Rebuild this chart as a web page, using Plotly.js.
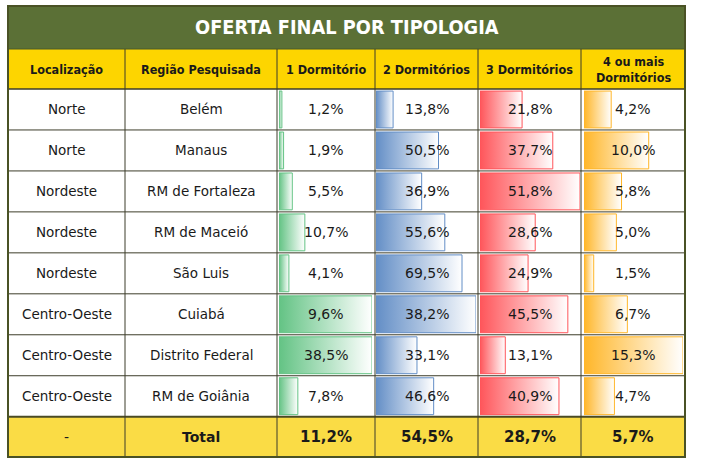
<!DOCTYPE html>
<html>
<head>
<meta charset="utf-8">
<script src="https://cdn.plot.ly/plotly-3.0.1.min.js"></script>
<style>
  html, body { margin: 0; padding: 0; background: #ffffff; }
  #chart { width: 704px; height: 466px; }
</style>
</head>
<body>
<div id="chart"></div>
<script>
// ---------------- DATA ----------------
const tableTitle = 'OFERTA FINAL POR TIPOLOGIA';
const headers = ['Localização', 'Região Pesquisada', '1 Dormitório', '2 Dormitórios', '3 Dormitórios', '4 ou mais<br>Dormitórios'];
const localizacao = ['Norte', 'Norte', 'Nordeste', 'Nordeste', 'Nordeste', 'Centro-Oeste', 'Centro-Oeste', 'Centro-Oeste'];
const regiao = ['Belém', 'Manaus', 'RM de Fortaleza', 'RM de Maceió', 'São Luis', 'Cuiabá', 'Distrito Federal', 'RM de Goiânia'];
const dorm1 = [1.2, 1.9, 5.5, 10.7, 4.1, 9.6, 38.5, 7.8];
const dorm2 = [13.8, 50.5, 36.9, 55.6, 69.5, 38.2, 33.1, 46.6];
const dorm3 = [21.8, 37.7, 51.8, 28.6, 24.9, 45.5, 13.1, 40.9];
const dorm4 = [4.2, 10.0, 5.8, 5.0, 1.5, 6.7, 15.3, 4.7];
const totalLabel = ['-', 'Total'];
const totals = [11.2, 54.5, 28.7, 5.7];
// data-bar lengths as drawn in the source picture (the Cuiabá bars of the
// first two columns are drawn at full length there)
const barLen1 = [1.2, 1.9, 5.5, 10.7, 4.1, 38.5, 38.5, 7.8];
const barLen2 = [13.8, 50.5, 36.9, 55.6, 69.5, 80.8, 33.1, 46.6];
const barLen3 = [21.8, 37.7, 51.8, 28.6, 24.9, 45.5, 13.1, 40.9];
const barLen4 = [4.2, 10.0, 5.8, 5.0, 1.5, 6.7, 15.3, 4.7];

// ---------------- LAYOUT CONSTANTS ----------------
const W = 704, H = 466;
const colEdges = [8, 125, 277, 375, 478, 581, 685];
const tableTop = 6, titleBottom = 49, headBottom = 89, dataBottom = 416.7, tableBottom = 457;
const nRows = localizacao.length;
const rowH = (dataBottom - headBottom) / nRows;
const px = x => x / W;
const py = y => 1 - y / H;
const colCenter = c => (colEdges[c] + colEdges[c + 1]) / 2;

const barColors = ['#63C384', '#638EC6', '#FF555A', '#FFB628'];
const barBorders = ['#63C384', '#638EC6', '#FF555A', '#FFB628'];
const values = [dorm1, dorm2, dorm3, dorm4];
const bars = [barLen1, barLen2, barLen3, barLen4];
const axisNames = ['x', 'x2', 'x3', 'x4'];
const barInsetL = [2, 1, 2, 3];
const barInsetR = [3, 2, 1, 2];

const fontData = 'DejaVu Sans, Verdana, sans-serif';
const fontHead = 'DejaVu Sans Condensed, DejaVu Sans, sans-serif';

// ---------------- TRACES (data bars) ----------------
const traces = [];
const half = 0.45;
for (let c = 0; c < 4; c++) {
  for (let i = 0; i < nRows; i++) {
    const v = bars[c][i];
    traces.push({
      type: 'scatter',
      mode: 'lines',
      xaxis: axisNames[c],
      yaxis: 'y',
      x: [0, v, v, 0, 0],
      y: [i - half, i - half, i + half, i + half, i - half],
      fill: 'toself',
      fillgradient: {
        type: 'horizontal',
        colorscale: [[0, barColors[c]], [1, '#FFFFFF']]
      },
      line: { color: barBorders[c], width: 1 },
      hoverinfo: 'skip',
      showlegend: false
    });
  }
}

// ---------------- SHAPES ----------------
const shapes = [];
// backgrounds
shapes.push({ type: 'rect', xref: 'paper', yref: 'paper', layer: 'below',
  x0: px(colEdges[0]), x1: px(colEdges[6]), y0: py(headBottom), y1: py(dataBottom),
  fillcolor: '#FFFFFF', line: { width: 0 } });
shapes.push({ type: 'rect', xref: 'paper', yref: 'paper', layer: 'below',
  x0: px(colEdges[0]), x1: px(colEdges[6]), y0: py(tableTop), y1: py(titleBottom),
  fillcolor: '#5B7036', line: { width: 0 } });
shapes.push({ type: 'rect', xref: 'paper', yref: 'paper', layer: 'below',
  x0: px(colEdges[0]), x1: px(colEdges[6]), y0: py(titleBottom), y1: py(headBottom),
  fillcolor: '#FDD500', line: { width: 0 } });
shapes.push({ type: 'rect', xref: 'paper', yref: 'paper', layer: 'below',
  x0: px(colEdges[0]), x1: px(colEdges[6]), y0: py(dataBottom), y1: py(tableBottom),
  fillcolor: '#FADC45', line: { width: 0 } });
// horizontal grid lines
const gridColor = '#3D3D2A';
for (let k = 1; k < nRows; k++) {
  const y = headBottom + k * rowH;
  shapes.push({ type: 'line', xref: 'paper', yref: 'paper', layer: 'above',
    x0: px(colEdges[0]), x1: px(colEdges[6]), y0: py(y), y1: py(y),
    line: { color: gridColor, width: 1 } });
}
shapes.push({ type: 'line', xref: 'paper', yref: 'paper', layer: 'above',
  x0: px(colEdges[0]), x1: px(colEdges[6]), y0: py(headBottom), y1: py(headBottom),
  line: { color: gridColor, width: 1.5 } });
shapes.push({ type: 'line', xref: 'paper', yref: 'paper', layer: 'above',
  x0: px(colEdges[0]), x1: px(colEdges[6]), y0: py(dataBottom), y1: py(dataBottom),
  line: { color: '#4A4A25', width: 2 } });
shapes.push({ type: 'line', xref: 'paper', yref: 'paper', layer: 'above',
  x0: px(colEdges[0]), x1: px(colEdges[6]), y0: py(titleBottom), y1: py(titleBottom),
  line: { color: '#4A5A28', width: 1 } });
// vertical grid lines
for (let c = 1; c < 6; c++) {
  shapes.push({ type: 'line', xref: 'paper', yref: 'paper', layer: 'above',
    x0: px(colEdges[c]), x1: px(colEdges[c]), y0: py(titleBottom), y1: py(tableBottom),
    line: { color: gridColor, width: 1 } });
}
// outer border
shapes.push({ type: 'rect', xref: 'paper', yref: 'paper', layer: 'above',
  x0: px(colEdges[0]), x1: px(colEdges[6]), y0: py(tableTop), y1: py(tableBottom),
  line: { color: '#4A5225', width: 2 } });

// ---------------- ANNOTATIONS ----------------
const fmt = v => v.toFixed(1).replace('.', ',') + '%';
const annotations = [];
annotations.push({ xref: 'paper', yref: 'paper', x: px((colEdges[0] + colEdges[6]) / 2), y: py((tableTop + titleBottom) / 2),
  text: '<b>' + tableTitle + '</b>', showarrow: false, xanchor: 'center', yanchor: 'middle',
  font: { family: fontHead, size: 19.8, color: '#FFFFFF' } });
headers.forEach((h, c) => {
  annotations.push({ xref: 'paper', yref: 'paper', x: px(colCenter(c)), y: py((titleBottom + headBottom) / 2),
    text: '<b>' + h + '</b>', showarrow: false, xanchor: 'center', yanchor: 'middle',
    font: { family: fontHead, size: 12.5, color: '#1A1A1A' } });
});
for (let i = 0; i < nRows; i++) {
  annotations.push({ xref: 'paper', yref: 'y', x: px(colCenter(0)), y: i, text: localizacao[i],
    showarrow: false, xanchor: 'center', yanchor: 'middle', font: { family: fontData, size: 13.5, color: '#1A1A1A' } });
  annotations.push({ xref: 'paper', yref: 'y', x: px(colCenter(1)), y: i, text: regiao[i],
    showarrow: false, xanchor: 'center', yanchor: 'middle', font: { family: fontData, size: 13.5, color: '#1A1A1A' } });
  for (let c = 0; c < 4; c++) {
    annotations.push({ xref: 'paper', yref: 'y', x: px(colCenter(c + 2)), y: i, text: fmt(values[c][i]),
      showarrow: false, xanchor: 'center', yanchor: 'middle', font: { family: fontData, size: 14, color: '#1A1A1A' } });
  }
}
const totalY = py((dataBottom + tableBottom) / 2);
annotations.push({ xref: 'paper', yref: 'paper', x: px(colCenter(0)), y: totalY, text: totalLabel[0],
  showarrow: false, xanchor: 'center', yanchor: 'middle', font: { family: fontData, size: 14, color: '#1A1A1A' } });
annotations.push({ xref: 'paper', yref: 'paper', x: px(colCenter(1)), y: totalY, text: '<b>' + totalLabel[1] + '</b>',
  showarrow: false, xanchor: 'center', yanchor: 'middle', font: { family: fontData, size: 14, color: '#1A1A1A' } });
totals.forEach((t, c) => {
  annotations.push({ xref: 'paper', yref: 'paper', x: px(colCenter(c + 2)), y: totalY, text: '<b>' + fmt(t) + '</b>',
    showarrow: false, xanchor: 'center', yanchor: 'middle', font: { family: fontData, size: 15, color: '#1A1A1A' } });
});

// ---------------- AXES ----------------
const layout = {
  width: W, height: H,
  margin: { l: 0, r: 0, t: 0, b: 0, pad: 0 },
  paper_bgcolor: '#FFFFFF',
  plot_bgcolor: 'rgba(0,0,0,0)',
  showlegend: false,
  shapes: shapes,
  annotations: annotations,
  yaxis: { domain: [py(dataBottom), py(headBottom)], range: [nRows - 0.5, -0.5],
    visible: false, fixedrange: true }
};
for (let c = 0; c < 4; c++) {
  const key = c === 0 ? 'xaxis' : 'xaxis' + (c + 1);
  const left = colEdges[c + 2] + barInsetL[c];
  const right = colEdges[c + 3] - barInsetR[c];
  layout[key] = { domain: [px(left), px(right)], range: [0, Math.max(...bars[c])],
    anchor: 'y', visible: false, fixedrange: true };
}

Plotly.newPlot('chart', traces, layout, { staticPlot: true, displayModeBar: false });
</script>
</body>
</html>
